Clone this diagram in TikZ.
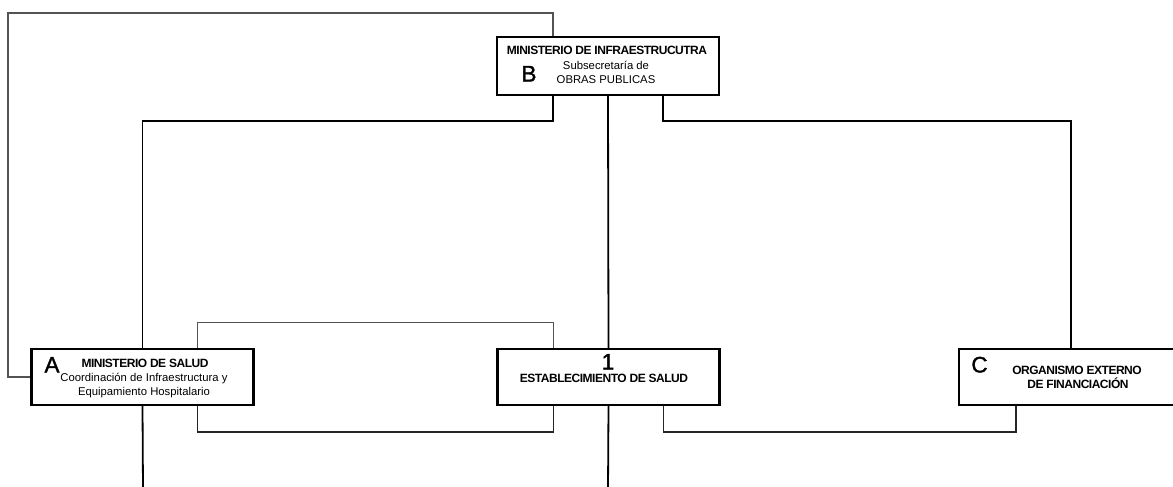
\documentclass[tikz,border=0pt]{standalone}
\usepackage{fontspec}
\setmainfont{Liberation Sans}
\newfontfamily\titlefont{Liberation Sans}[LetterSpace=-4]
\newfontfamily\tagfont{Liberation Sans}[FakeBold=1.5]
\usetikzlibrary{calc}
\tikzset{
  unit/.style={draw=black,line width=2.2pt,minimum width=222pt,minimum height=56pt,
               inner sep=0pt,fill=white},                                  % organism box
  hd/.style={font=\titlefont\fontsize{12}{13}\selectfont\bfseries,anchor=base,inner sep=0pt}, % box title
  sub/.style={font=\fontsize{11.3}{12}\selectfont,anchor=base,inner sep=0pt},      % box subtitle
  tag/.style={font=\tagfont\fontsize{22.5}{24}\selectfont,anchor=base,inner sep=0pt}, % big letter
  main/.style={-,black,line width=1.8pt},
  aux/.style={-,gray!65!black,line width=1.1pt},
  ret/.style={-,black!85,line width=1.5pt},
}

\begin{document}
\begin{tikzpicture}[x=1pt,y=-1pt]
  \useasboundingbox (0,0) rectangle (1173,487);
  % boxes
  \node[unit,minimum height=58pt] (B) at (608,66) {};
  \node[unit] (A) at (142.5,377) {};
  \node[unit] (E) at (608.5,377) {};
  \node[unit,minimum width=224pt] (C) at (1071,377) {};
  % texts in B
  \node[hd]  (Bt) at (607,55) {MINISTERIO DE INFRAESTRUCUTRA};
  \node[tag] (Bl) at (529,81.5) {B};
  \node[sub] (Bs1) at (606,69.5) {Subsecretaría de};
  \node[sub] (Bs2) at (606,84) {OBRAS PUBLICAS};
  % texts in A
  \node[tag] (Al) at (52,372.5) {A};
  \node[hd]  (At) at (145,367) {MINISTERIO DE SALUD};
  \node[sub] (As1) at (144,381.5) {Coordinación de Infraestructura y};
  \node[sub] (As2) at (144,395) {Equipamiento Hospitalario};
  % texts in 1
  \node[tag] (El) at (608,369.5) {1};
  \node[hd]  (Et) at (604,382) {ESTABLECIMIENTO DE SALUD};
  % texts in C
  \node[tag] (Cl) at (979.5,372.5) {C};
  \node[hd]  (Ct1) at (1077,374) {ORGANISMO EXTERNO};
  \node[hd]  (Ct2) at (1078,388) {DE FINANCIACIÓN};
  % free ends
  \coordinate (ltop) at (8,13);
  \coordinate (Aend) at (143,490);
  \coordinate (Eend) at (608,490);
  % connectors
  \draw[aux] (A.west) -| (ltop) -| ([xshift=-55pt]B.north);
  \draw[main] ([xshift=-55pt]B.south) -- ++(0,25) -| (A.north);
  \draw[main] (B.south) -- (E.north);
  \draw[main] ([xshift=55pt]B.south) -- ++(0,25) -| (C.north);
  \draw[aux] ([xshift=-55pt]E.north) -- ++(0,-25) -| ([xshift=55pt]A.north);
  \draw[ret] ([xshift=-55pt]E.south) -- ++(0,26) -| ([xshift=55pt]A.south);
  \draw[ret] ([xshift=55pt]E.south) -- ++(0,26) -| ([xshift=-55pt]C.south);
  \draw[main] (A.south) -- (Aend);
  \draw[main] (E.south) -- (Eend);
\end{tikzpicture}
\end{document}
